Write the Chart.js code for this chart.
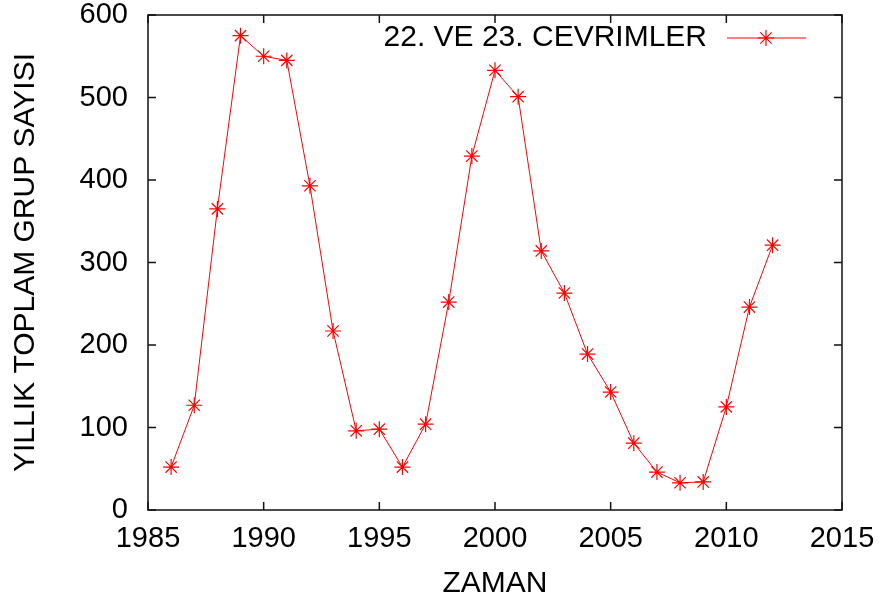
<!DOCTYPE html>
<html>
<head>
<meta charset="utf-8">
<script src="https://cdn.jsdelivr.net/npm/chart.js@4/dist/chart.umd.min.js"></script>
<style>
html,body{margin:0;padding:0;background:#fff;}
canvas{display:block;}
</style>
</head>
<body>
<canvas id="c" width="884" height="604"></canvas>
<script>
const years = [1986,1987,1988,1989,1990,1991,1992,1993,1994,1995,1996,1997,1998,1999,2000,2001,2002,2003,2004,2005,2006,2007,2008,2009,2010,2011,2012];
const counts = [52,127,365,575,550,545,393,217,96,98,52,104,252,429,533,501,314,263,189,143,81,46,33,34,125,246,321];
const seriesName = "22. VE 23. CEVRIMLER";
const xTitle = "ZAMAN";
const yTitle = "YILLIK TOPLAM GRUP SAYISI";
const xTicks = [1985,1990,1995,2000,2005,2010,2015];
const yTicks = [0,100,200,300,400,500,600];

const FONT = "'Liberation Sans', Arial, Helvetica, sans-serif";
const FS = 29;
const FT = 30;
const legendStarRadius = 8;

new Chart(document.getElementById('c'), {
  type: 'line',
  data: {
    datasets: [{
      label: seriesName,
      data: years.map((y, i) => ({x: y, y: counts[i]})),
      borderColor: '#ff0000',
      backgroundColor: '#ff0000',
      borderWidth: 1,
      pointStyle: 'star',
      pointRadius: 8,
      pointBorderWidth: 1.2,
      pointBorderColor: '#ff0000',
      tension: 0,
      fill: false,
      clip: false
    }]
  },
  options: {
    responsive: false,
    animation: false,
    devicePixelRatio: 1,
    layout: {padding: {top: 15, right: 42, left: 0, bottom: 0}},
    plugins: {legend: {display: false}, tooltip: {enabled: false}},
    scales: {
      x: {
        type: 'linear', min: 1985, max: 2015,
        afterBuildTicks(s) { s.ticks = xTicks.map(v => ({value: v})); },
        afterFit(s) { s.height = 94; s.paddingLeft = 0; s.paddingRight = 0; },
        grid: {display: false, drawTicks: false},
        border: {display: false},
        ticks: {
          padding: 12, color: '#000', maxRotation: 0, autoSkip: false,
          font: {family: FONT, size: FS, lineHeight: 1.2},
          callback: v => String(v)
        },
        title: {display: true, text: xTitle, color: '#000', padding: {top: 0, bottom: 2},
          font: {family: FONT, size: FT, lineHeight: 1.2}}
      },
      y: {
        type: 'linear', min: 0, max: 600,
        afterBuildTicks(s) { s.ticks = yTicks.map(v => ({value: v})); },
        afterFit(s) { s.width = 148; s.paddingTop = 0; s.paddingBottom = 0; },
        grid: {display: false, drawTicks: false},
        border: {display: false},
        ticks: {
          padding: 20, color: '#000', autoSkip: false,
          font: {family: FONT, size: FS, lineHeight: 1.2},
          callback: v => String(v)
        },
        title: {display: true, text: yTitle, color: '#000', padding: {top: 8, bottom: 0},
          font: {family: FONT, size: FT, lineHeight: 1.2}}
      }
    }
  },
  plugins: [{
    id: 'frame',
    afterDatasetsDraw(chart) {
      const {ctx, chartArea: a, scales} = chart;
      ctx.save();
      ctx.strokeStyle = '#111';
      ctx.lineWidth = 1.5;
      ctx.strokeRect(a.left, a.top, a.right - a.left, a.bottom - a.top);
      const tl = 8;
      ctx.beginPath();
      xTicks.forEach(v => {
        const px = scales.x.getPixelForValue(v);
        ctx.moveTo(px, a.bottom); ctx.lineTo(px, a.bottom - tl);
        ctx.moveTo(px, a.top); ctx.lineTo(px, a.top + tl);
      });
      yTicks.forEach(v => {
        const py = scales.y.getPixelForValue(v);
        ctx.moveTo(a.left, py); ctx.lineTo(a.left + tl, py);
        ctx.moveTo(a.right, py); ctx.lineTo(a.right - tl, py);
      });
      ctx.stroke();
      const ly = 38;
      ctx.fillStyle = '#000';
      ctx.font = FT + 'px ' + FONT;
      ctx.textAlign = 'right';
      ctx.textBaseline = 'middle';
      ctx.fillText(seriesName, 707, ly);
      ctx.strokeStyle = '#ff0000';
      ctx.fillStyle = '#ff0000';
      ctx.lineWidth = 1;
      ctx.beginPath();
      ctx.moveTo(727, ly); ctx.lineTo(806, ly);
      ctx.stroke();
      ctx.lineWidth = 1.2;
      Chart.helpers.drawPoint(ctx, {pointStyle: 'star', rotation: 0, radius: legendStarRadius, borderWidth: 1.2}, 766, ly);
      ctx.restore();
    }
  }]
});
</script>
</body>
</html>
